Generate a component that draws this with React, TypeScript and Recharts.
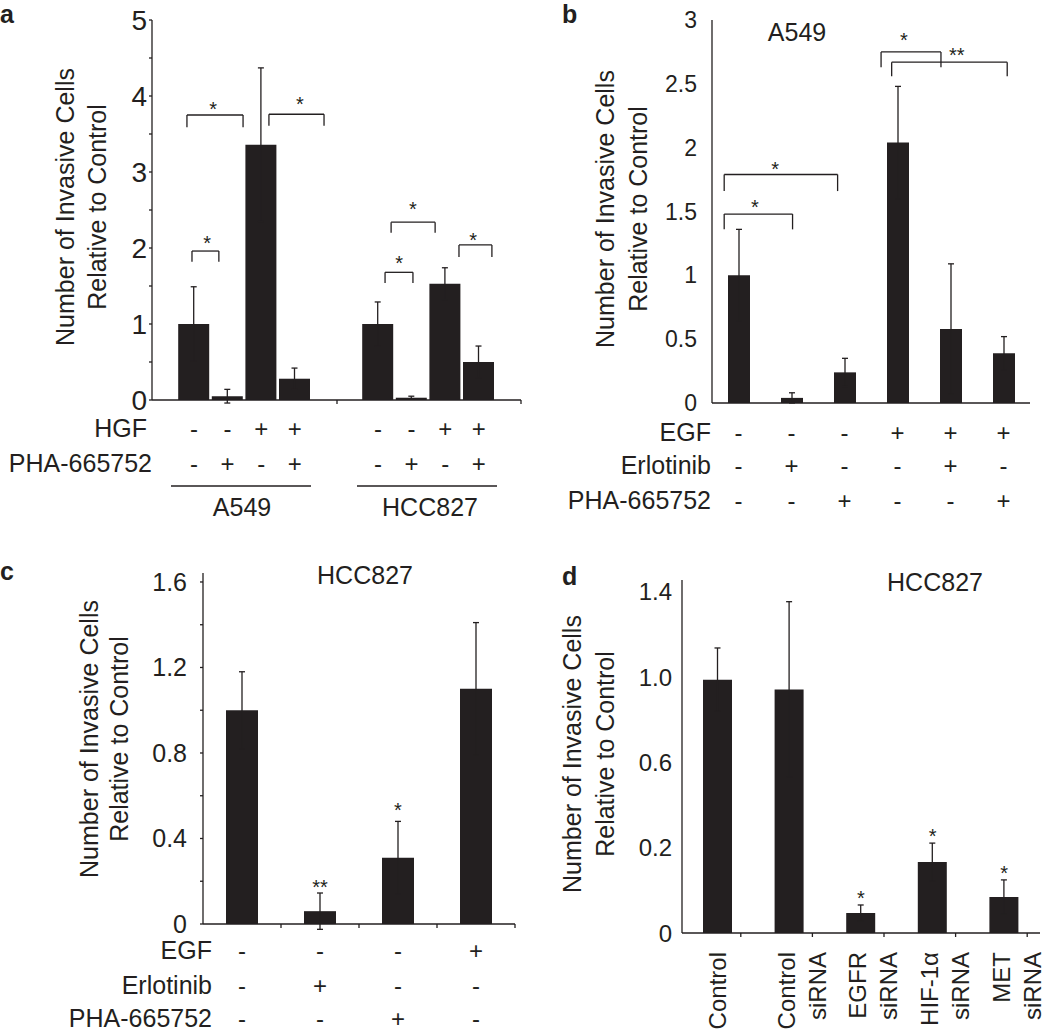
import React from 'react';
import { BarChart, Bar, XAxis, YAxis, ErrorBar, ReferenceLine, ReferenceDot } from 'recharts';

const INK = '#231f20';
const FONT = '"Liberation Sans", Arial, Helvetica, sans-serif';

// ---------- Panel a ----------
const aCellLines = ['A549', 'HCC827'];
const aHGF = ['-', '-', '+', '+'];
const aPHA = ['-', '+', '-', '+'];
const aMeans = [1.0, 0.05, 3.36, 0.28, 1.0, 0.03, 1.53, 0.5];
const aErrors = [0.49, 0.09, 1.01, 0.14, 0.29, 0.02, 0.21, 0.21];
const aYTicks = [0, 0.5, 1, 1.5, 2, 2.5, 3, 3.5, 4, 4.5, 5];
// [xLeft, xRight, yTop, yLeftEnd, yRightEnd] in bar-slot units within each cell line group
const aBracketsA549 = [
  [-0.06, 0.74, 1.96, 1.82, 1.82],
  [-0.21, 1.46, 3.75, 3.59, 3.59],
  [2.23, 3.87, 3.76, 3.61, 3.61],
];
const aBracketsHCC827 = [
  [0.21, 1.04, 1.68, 1.54, 1.54],
  [0.39, 1.7, 2.34, 2.2, 2.2],
  [2.41, 3.39, 2.04, 1.88, 1.88],
];
const aStarsA549 = [
  { x: 0.39, y: 2.12, t: '*' },
  { x: 0.57, y: 3.89, t: '*' },
  { x: 3.15, y: 3.95, t: '*' },
];
const aStarsHCC827 = [
  { x: 0.63, y: 1.86, t: '*' },
  { x: 1.04, y: 2.57, t: '*' },
  { x: 2.83, y: 2.17, t: '*' },
];

// ---------- Panel b ----------
const bConditions = ['Control', 'Erlotinib', 'PHA', 'EGF', 'EGF+Erlotinib', 'EGF+PHA'];
const bEGF = ['-', '-', '-', '+', '+', '+'];
const bErl = ['-', '+', '-', '-', '+', '-'];
const bPHA = ['-', '-', '+', '-', '-', '+'];
const bMeans = [1.0, 0.04, 0.24, 2.04, 0.58, 0.39];
const bErrors = [0.36, 0.04, 0.11, 0.44, 0.51, 0.13];
const bYTicks = [0, 0.5, 1, 1.5, 2, 2.5, 3];
const bBrackets = [
  [-0.27, 1.02, 1.48, 1.36, 1.36],
  [-0.27, 1.87, 1.79, 1.66, 1.66],
  [2.69, 3.82, 2.75, 2.63, 2.63],
  [2.89, 5.07, 2.67, 2.56, 2.56],
];
const bStars = [
  { x: 0.31, y: 1.57, t: '*' },
  { x: 0.69, y: 1.87, t: '*' },
  { x: 3.12, y: 2.88, t: '*' },
  { x: 4.12, y: 2.76, t: '**' },
];

// ---------- Panel c ----------
const cConditions = ['Control', 'Erlotinib', 'PHA', 'EGF'];
const cEGF = ['-', '-', '-', '+'];
const cErl = ['-', '+', '-', '-'];
const cPHA = ['-', '-', '+', '-'];
const cMeans = [1.0, 0.06, 0.31, 1.1];
const cErrors = [0.18, 0.085, 0.17, 0.31];
const cYTicks = [0, 0.2, 0.4, 0.6, 0.8, 1.0, 1.2, 1.4, 1.6];
const cStars = [
  { x: 'Erlotinib', y: 0.196, t: '**' },
  { x: 'PHA', y: 0.557, t: '*' },
];

// ---------- Panel d ----------
const dConditions = ['Control', 'Control siRNA', 'EGFR siRNA', 'HIF-1\u03b1 siRNA', 'MET siRNA'];
const dMeans = [1.04, 1.0, 0.082, 0.291, 0.148];
const dErrors = [0.13, 0.36, 0.033, 0.078, 0.07];
const dTickValues = [0, 0.35, 0.7, 1.05, 1.4];
const dTickLabels = ['0', '0.2', '0.6', '1.0', '1.4'];
const dStars = [
  { x: 'EGFR siRNA', y: 0.164, t: '*' },
  { x: 'HIF-1\u03b1 siRNA', y: 0.419, t: '*' },
  { x: 'MET siRNA', y: 0.267, t: '*' },
];

// ---------- tables ----------
const aGroupData = aCellLines.map((line, g) =>
  aHGF.map((_, k) => {
    const i = g * aHGF.length + k;
    return { name: `${line}-${k}`, hgf: aHGF[k], pha: aPHA[k], value: aMeans[i], err: aErrors[i] };
  })
);
const bData = bConditions.map((name, i) => ({ name, egf: bEGF[i], erl: bErl[i], pha: bPHA[i], value: bMeans[i], err: bErrors[i] }));
const cData = cConditions.map((name, i) => ({ name, egf: cEGF[i], erl: cErl[i], pha: cPHA[i], value: cMeans[i], err: cErrors[i] }));
const dData = dConditions.map((name, i) => ({ name, value: dMeans[i], err: dErrors[i] }));

const byName = (rows: any[]) => Object.fromEntries(rows.map((r) => [r.name, r]));
const aMap = byName(aGroupData.flat());
const bMap = byName(bData);
const cMap = byName(cData);

const Sign = ({ x, y, s }: any) => (
  <text x={x} y={y} textAnchor="middle" dominantBaseline="central" fill={INK} fontSize={24} fontFamily={FONT}>{s}</text>
);

const ATick = (p: any) => {
  const row = aMap[p.payload.value];
  if (!row) return <g />;
  return (
    <g>
      <Sign x={p.x} y={p.y + 28} s={row.hgf} />
      <Sign x={p.x} y={p.y + 63} s={row.pha} />
    </g>
  );
};

const BTick = (p: any) => {
  const row = bMap[p.payload.value];
  if (!row) return <g />;
  return (
    <g>
      <Sign x={p.x} y={p.y + 29} s={row.egf} />
      <Sign x={p.x} y={p.y + 62} s={row.erl} />
      <Sign x={p.x} y={p.y + 97} s={row.pha} />
    </g>
  );
};

const CTick = (p: any) => {
  const row = cMap[p.payload.value];
  if (!row) return <g />;
  return (
    <g>
      <line x1={p.x + 39} x2={p.x + 39} y1={p.y} y2={p.y + 4} stroke={INK} strokeWidth={1.3} />
      <Sign x={p.x} y={p.y + 26} s={row.egf} />
      <Sign x={p.x} y={p.y + 61} s={row.erl} />
      <Sign x={p.x} y={p.y + 94} s={row.pha} />
    </g>
  );
};

const DTick = (p: any) => {
  const lines = String(p.payload.value).split(' ');
  const xs = lines.length === 1 ? [0] : [-3, 28];
  const top = p.y + 19;
  return (
    <g>
      <line x1={p.x + 23} x2={p.x + 23} y1={p.y} y2={p.y + 4} stroke={INK} strokeWidth={1.3} />
      {lines.map((t, k) => (
        <text
          key={k}
          x={p.x + xs[k]}
          y={top}
          dy="0.35em"
          textAnchor="end"
          transform={`rotate(-90 ${p.x + xs[k]} ${top})`}
          fill={INK}
          fontSize={24}
          fontFamily={FONT}
        >
          {t}
        </text>
      ))}
    </g>
  );
};

const starShape = (t: string) => (p: any) => (
  <text x={p.cx} y={p.cy} dy="0.58em" textAnchor="middle" fill={INK} fontSize={20} fontFamily={FONT}>
    {t}
  </text>
);

const bracketLines = (list: number[][], key: string) =>
  list.flatMap(([x1, x2, y, d1, d2], i) => [
    <ReferenceLine key={`${key}${i}h`} xAxisId="n" ifOverflow="visible" segment={[{ x: x1, y }, { x: x2, y }]} stroke={INK} strokeWidth={1.3} />,
    <ReferenceLine key={`${key}${i}l`} xAxisId="n" ifOverflow="visible" segment={[{ x: x1, y: d1 }, { x: x1, y }]} stroke={INK} strokeWidth={1.3} />,
    <ReferenceLine key={`${key}${i}r`} xAxisId="n" ifOverflow="visible" segment={[{ x: x2, y: d2 }, { x: x2, y }]} stroke={INK} strokeWidth={1.3} />,
  ]);

const starDots = (list: any[], key: string, axis?: string) =>
  list.map((s, i) => (
    <ReferenceDot key={`${key}${i}`} {...(axis ? { xAxisId: axis } : {})} ifOverflow="visible" x={s.x} y={s.y} r={0} shape={starShape(s.t)} />
  ));

const axisLine = { stroke: INK, strokeWidth: 1.3 };
const tickText = (size: number) => ({ fill: INK, fontSize: size, fontFamily: FONT });

const Abs = ({ left, top, children }: any) => (
  <div style={{ position: 'absolute', left, top }}>{children}</div>
);

const RotTitle = ({ x1, x2, cy }: any) => (
  <g fill={INK} fontSize={25} fontFamily={FONT}>
    <text x={x1} y={cy} dy="0.35em" textAnchor="middle" transform={`rotate(-90 ${x1} ${cy})`}>Number of Invasive Cells</text>
    <text x={x2} y={cy} dy="0.35em" textAnchor="middle" transform={`rotate(-90 ${x2} ${cy})`}>Relative to Control</text>
  </g>
);

const RowLabel = ({ x, y, t }: any) => (
  <text x={x} y={y} textAnchor="end" dominantBaseline="central" fill={INK} fontSize={25} fontFamily={FONT}>{t}</text>
);

// padding so that bars of each cell-line group sit where the figure puts them
const aCatPad = [
  { left: 25.2, right: 25.4 },
  { left: 24.2, right: 25.4 },
];
const aNumPad = [
  { left: 42, right: 42.2 },
  { left: 41, right: 42.2 },
];
const bPad = { left: 26.5, right: 26.5 };

const APart = ({ g }: { g: number }) => {
  const first = g === 0;
  return (
    <BarChart width={first ? 337 : 184} height={525} data={aGroupData[g]} margin={{ top: 20, right: 0, bottom: 0, left: 0 }}>
      <XAxis dataKey="name" type="category" interval={0} height={125} padding={aCatPad[g]}
        axisLine={axisLine} tickLine={false} tickSize={0} tickMargin={0} tick={ATick} />
      <XAxis xAxisId="n" type="number" hide domain={[0, aHGF.length - 1]} allowDataOverflow padding={aNumPad[g]} />
      {first ? (
        <YAxis type="number" domain={[0, 5]} ticks={aYTicks} interval={0} width={152} allowDataOverflow
          axisLine={axisLine} tickLine={{ stroke: INK, strokeWidth: 1.3 }} tickSize={3} tickMargin={2}
          tick={tickText(28)} tickFormatter={(v: number) => (Number.isInteger(v) ? String(v) : '')} />
      ) : (
        <YAxis type="number" domain={[0, 5]} hide allowDataOverflow />
      )}
      <Bar dataKey="value" fill={INK} barSize={31} isAnimationActive={false}>
        <ErrorBar dataKey="err" width={3} stroke={INK} strokeWidth={1.3} direction="y" />
      </Bar>
      {bracketLines(first ? aBracketsA549 : aBracketsHCC827, `a${g}`)}
      {starDots(first ? aStarsA549 : aStarsHCC827, `as${g}`, 'n')}
    </BarChart>
  );
};

export default function App() {
  return (
    <div style={{ position: 'absolute', left: 0, top: 0, width: 1050, height: 1033, background: '#fff' }}>
      {/* Panel a: one y scale shared by the two cell-line groups */}
      <Abs left={0} top={0}>
        <APart g={0} />
      </Abs>
      <Abs left={337} top={0}>
        <APart g={1} />
      </Abs>

      {/* Panel b */}
      <Abs left={520} top={0}>
        <BarChart width={530} height={525} data={bData} margin={{ top: 20, right: 20, bottom: 0, left: 0 }}>
          <XAxis dataKey="name" type="category" interval={0} height={122}
            axisLine={axisLine} tickLine={false} tickSize={0} tickMargin={0} tick={BTick} />
          <XAxis xAxisId="n" type="number" hide domain={[0, bData.length - 1]} allowDataOverflow padding={bPad} />
          <YAxis type="number" domain={[0, 3]} ticks={bYTicks} interval={0} width={192} allowDataOverflow
            axisLine={axisLine} tickLine={false} tickSize={6} tickMargin={9} tick={tickText(23)} />
          <Bar dataKey="value" fill={INK} barSize={22} isAnimationActive={false}>
            <ErrorBar dataKey="err" width={3} stroke={INK} strokeWidth={1.3} direction="y" />
          </Bar>
          {bracketLines(bBrackets, 'b')}
          {starDots(bStars, 'bs', 'n')}
        </BarChart>
      </Abs>

      {/* Panel c */}
      <Abs left={0} top={540}>
        <BarChart width={530} height={493} data={cData} margin={{ top: 33, right: 15, bottom: 0, left: 0 }}>
          <XAxis dataKey="name" type="category" interval={0} height={109}
            axisLine={axisLine} tickLine={false} tickSize={0} tickMargin={0} tick={CTick} />
          <YAxis type="number" domain={[0, 1.642]} ticks={cYTicks} interval={0} width={203} allowDataOverflow
            axisLine={axisLine} tickLine={{ stroke: INK, strokeWidth: 1.3 }} tickSize={3} tickMargin={13}
            tick={tickText(25)}
            tickFormatter={(v: number) => (v === 0 ? '0' : Math.round(v * 10) % 4 === 0 ? v.toFixed(1) : '')} />
          <Bar dataKey="value" fill={INK} barSize={32} isAnimationActive={false}>
            <ErrorBar dataKey="err" width={3} stroke={INK} strokeWidth={1.3} direction="y" />
          </Bar>
          {starDots(cStars, 'cs')}
        </BarChart>
      </Abs>

      {/* Panel d */}
      <Abs left={520} top={540}>
        <BarChart width={530} height={493} data={dData} margin={{ top: 40, right: 10, bottom: 0, left: 0 }}>
          <XAxis dataKey="name" type="category" interval={0} height={100}
            axisLine={axisLine} tickLine={false} tickSize={0} tickMargin={0} tick={DTick} />
          <YAxis type="number" domain={[0, 1.449]} ticks={dTickValues} interval={0} width={162} allowDataOverflow
            axisLine={axisLine} tickLine={false} tickSize={0} tickMargin={10} tick={tickText(24)}
            tickFormatter={(v: number) => dTickLabels[dTickValues.indexOf(v)] ?? ''} />
          <Bar dataKey="value" fill={INK} barSize={29} isAnimationActive={false}>
            <ErrorBar dataKey="err" width={3} stroke={INK} strokeWidth={1.3} direction="y" />
          </Bar>
          {starDots(dStars, 'ds')}
        </BarChart>
      </Abs>

      {/* annotations */}
      <svg width={1050} height={1033} style={{ position: 'absolute', left: 0, top: 0, pointerEvents: 'none' }}>
        <g fill={INK} fontFamily={FONT} fontWeight="bold" fontSize={25}>
          <text x={0} y={23}>a</text>
          <text x={562} y={23}>b</text>
          <text x={0} y={580}>c</text>
          <text x={562} y={585}>d</text>
        </g>
        <RotTitle x1={65} x2={97} cy={207} />
        <RotTitle x1={605} x2={638} cy={209} />
        <RotTitle x1={89} x2={119} cy={739} />
        <RotTitle x1={572} x2={605} cy={754} />

        <line x1={337} x2={337} y1={400} y2={404} stroke={INK} strokeWidth={1.3} />
        <line x1={521} x2={521} y1={400} y2={404} stroke={INK} strokeWidth={1.3} />
        <RowLabel x={147} y={428} t="HGF" />
        <RowLabel x={152} y={463} t="PHA-665752" />
        <line x1={171} x2={311} y1={486} y2={486} stroke={INK} strokeWidth={1.3} />
        <line x1={357} x2={497} y1={486} y2={486} stroke={INK} strokeWidth={1.3} />
        <g fill={INK} fontSize={25} fontFamily={FONT} textAnchor="middle">
          <text x={242} y={507} dominantBaseline="central">{aCellLines[0]}</text>
          <text x={430} y={507} dominantBaseline="central">{aCellLines[1]}</text>
        </g>

        <RowLabel x={711} y={432} t="EGF" />
        <RowLabel x={711} y={465} t="Erlotinib" />
        <RowLabel x={711} y={500} t="PHA-665752" />

        <RowLabel x={212} y={950} t="EGF" />
        <RowLabel x={212} y={985} t="Erlotinib" />
        <RowLabel x={212} y={1018} t="PHA-665752" />

        <g fill={INK} fontSize={25} fontFamily={FONT} textAnchor="middle">
          <text x={797} y={32} dominantBaseline="central">A549</text>
          <text x={365} y={575} dominantBaseline="central">HCC827</text>
          <text x={935} y={582} dominantBaseline="central">HCC827</text>
        </g>
      </svg>
    </div>
  );
}
